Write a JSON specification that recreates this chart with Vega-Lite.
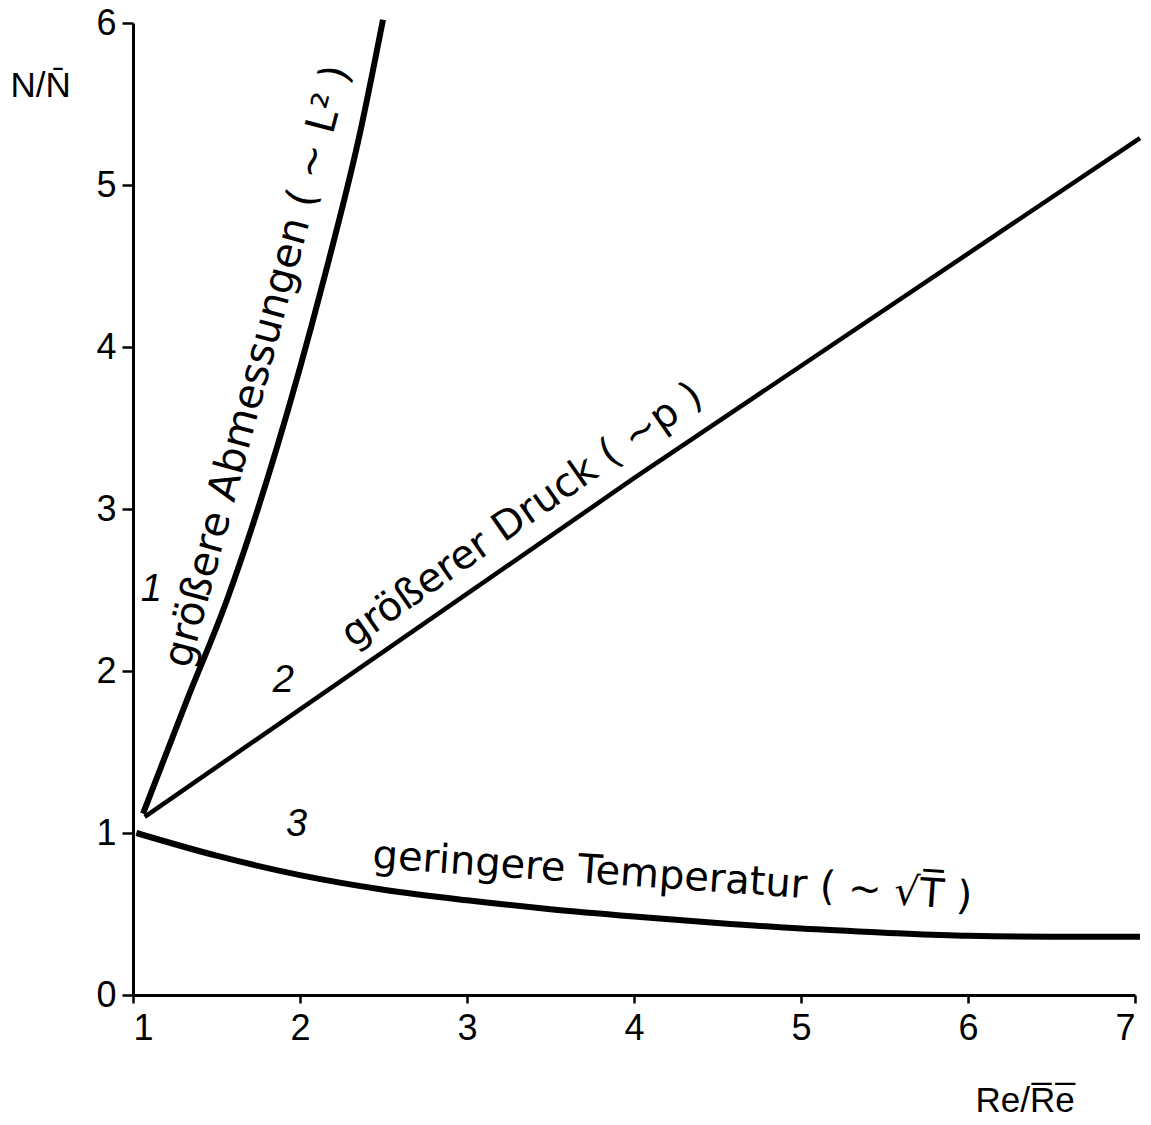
{
  "$schema": "https://vega.github.io/schema/vega-lite/v6.json",
  "width": 1002,
  "height": 972,
  "autosize": {"type": "none"},
  "padding": {"left": 133, "top": 23, "right": 16, "bottom": 130},
  "background": "white",
  "config": {
    "view": {"stroke": null},
    "font": "Liberation Sans",
    "axis": {"grid": false, "domainColor": "black", "tickColor": "black", "labelColor": "black", "titleColor": "black", "labelFont": "Liberation Sans", "titleFont": "Liberation Sans", "labelFontSize": 36, "titleFontSize": 35, "titleFontWeight": "normal", "domainWidth": 3, "tickWidth": 2.5}
  },
  "datasets": {
    "curves": [
      {"series": "1", "re": 1.06, "n": 1.12},
      {"series": "1", "re": 1.323, "n": 1.82},
      {"series": "1", "re": 1.563, "n": 2.44},
      {"series": "1", "re": 1.862, "n": 3.38},
      {"series": "1", "re": 2.138, "n": 4.4},
      {"series": "1", "re": 2.359, "n": 5.32},
      {"series": "1", "re": 2.497, "n": 6.02},
      {"series": "2", "re": 1.07, "n": 1.1},
      {"series": "2", "re": 4.0, "n": 3.19},
      {"series": "2", "re": 7.03, "n": 5.29},
      {"series": "3", "re": 1.02, "n": 1.0},
      {"series": "3", "re": 1.5, "n": 0.86},
      {"series": "3", "re": 2.0, "n": 0.74},
      {"series": "3", "re": 2.5, "n": 0.65},
      {"series": "3", "re": 3.0, "n": 0.585},
      {"series": "3", "re": 3.5, "n": 0.53},
      {"series": "3", "re": 4.0, "n": 0.485},
      {"series": "3", "re": 4.5, "n": 0.445},
      {"series": "3", "re": 5.0, "n": 0.41},
      {"series": "3", "re": 5.5, "n": 0.385},
      {"series": "3", "re": 6.0, "n": 0.365},
      {"series": "3", "re": 6.5, "n": 0.36},
      {"series": "3", "re": 7.03, "n": 0.36}
    ],
    "labels": [
      {"key": "a", "label": "größere  Abmessungen  ( ~ L² )", "re": 1.75, "n": 3.88},
      {"key": "b", "label": "größerer  Druck  ( ~p )", "re": 3.33, "n": 2.96},
      {"key": "c", "label": "geringere  Temperatur  ( ~ √T̅ )", "re": 4.23, "n": 0.73},
      {"key": "n", "label": "1", "re": 1.11, "n": 2.5},
      {"key": "n", "label": "2", "re": 1.9, "n": 1.94},
      {"key": "n", "label": "3", "re": 1.98, "n": 1.05}
    ]
  },
  "layer": [
    {
      "data": {"name": "curves"},
      "transform": [{"filter": "datum.series == '1'"}],
      "mark": {"type": "line", "color": "black", "strokeWidth": 6, "interpolate": "monotone", "clip": false},
      "encoding": {
        "x": {"field": "re", "type": "quantitative", "scale": {"domain": [1, 7], "nice": false, "zero": false},
          "axis": {"values": [1, 2, 3, 4, 5, 6, 7], "format": "d", "tickSize": 8, "labelPadding": 8, "title": "Re/R̅e̅", "titleAlign": "left", "titleBaseline": "alphabetic", "titleX": 842, "titleY": 116, "titleAnchor": null}},
        "y": {"field": "n", "type": "quantitative", "scale": {"domain": [0, 6], "nice": false},
          "axis": {"values": [0, 1, 2, 3, 4, 5, 6], "format": "d", "tickSize": 11, "labelPadding": 6, "title": "N/N̄", "titleAngle": 0, "titleAlign": "left", "titleBaseline": "middle", "titleX": -123, "titleY": 62, "titleAnchor": null}}
      }
    },
    {
      "data": {"name": "curves"},
      "transform": [{"filter": "datum.series == '2'"}],
      "mark": {"type": "line", "color": "black", "strokeWidth": 4.5, "clip": false},
      "encoding": {"x": {"field": "re", "type": "quantitative"}, "y": {"field": "n", "type": "quantitative"}}
    },
    {
      "data": {"name": "curves"},
      "transform": [{"filter": "datum.series == '3'"}],
      "mark": {"type": "line", "color": "black", "strokeWidth": 6, "interpolate": "monotone", "clip": false},
      "encoding": {"x": {"field": "re", "type": "quantitative"}, "y": {"field": "n", "type": "quantitative"}}
    },
    {
      "data": {"name": "labels"},
      "transform": [{"filter": "datum.key == 'a'"}],
      "mark": {"type": "text", "angle": -75, "fontSize": 41, "font": "DejaVu Sans", "color": "black", "align": "center", "baseline": "middle"},
      "encoding": {"x": {"field": "re", "type": "quantitative"}, "y": {"field": "n", "type": "quantitative"}, "text": {"field": "label"}}
    },
    {
      "data": {"name": "labels"},
      "transform": [{"filter": "datum.key == 'b'"}],
      "mark": {"type": "text", "angle": -35, "fontSize": 40, "font": "DejaVu Sans", "color": "black", "align": "center", "baseline": "middle"},
      "encoding": {"x": {"field": "re", "type": "quantitative"}, "y": {"field": "n", "type": "quantitative"}, "text": {"field": "label"}}
    },
    {
      "data": {"name": "labels"},
      "transform": [{"filter": "datum.key == 'c'"}],
      "mark": {"type": "text", "angle": 4, "fontSize": 40, "font": "DejaVu Sans", "color": "black", "align": "center", "baseline": "middle"},
      "encoding": {"x": {"field": "re", "type": "quantitative"}, "y": {"field": "n", "type": "quantitative"}, "text": {"field": "label"}}
    },
    {
      "data": {"name": "labels"},
      "transform": [{"filter": "datum.key == 'n'"}],
      "mark": {"type": "text", "fontSize": 38, "font": "Liberation Sans", "fontStyle": "italic", "color": "black", "align": "center", "baseline": "middle"},
      "encoding": {"x": {"field": "re", "type": "quantitative"}, "y": {"field": "n", "type": "quantitative"}, "text": {"field": "label"}}
    }
  ]
}
